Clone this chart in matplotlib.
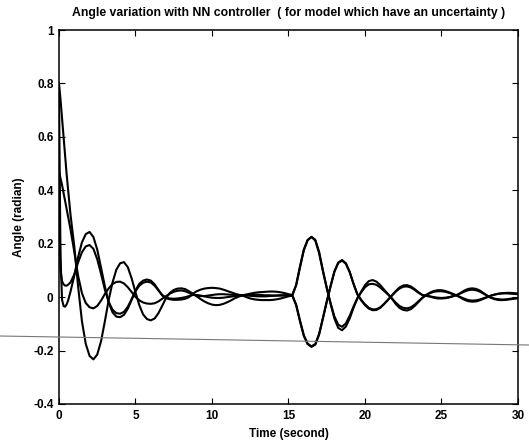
import numpy as np
import matplotlib
matplotlib.use("Agg")
import matplotlib.pyplot as plt
from matplotlib.lines import Line2D
from matplotlib.ticker import FormatStrFormatter

plt.rcParams["font.family"] = ["Liberation Sans", "DejaVu Sans"]
plt.rcParams["font.weight"] = "bold"
plt.rcParams["font.size"] = 8.5

# time axis: fine sampling at the start, then every 0.25 s
t = np.concatenate([[0, 0.05, 0.1, 0.2, 0.3, 0.4, 0.5, 0.6, 0.75],
                    np.arange(1.0, 30.01, 0.25)])

# angle curves (radian)
angle_1 = [0.80, 0.77, 0.74, 0.67, 0.60, 0.53, 0.46, 0.40, 0.31,
           0.19, 0.04, -0.09, -0.175,
           -0.22, -0.233, -0.215, -0.165,
           -0.09, -0.01, 0.055, 0.103,
           0.127, 0.131, 0.112, 0.07,
           0.018, -0.03, -0.065, -0.082,
           -0.087, -0.08, -0.06, -0.032,
           -0.003, 0.016, 0.027, 0.032,
           0.033, 0.03, 0.022, 0.013,
           0.003, -0.007, -0.016, -0.023,
           -0.028, -0.03, -0.029, -0.025,
           -0.019, -0.012, -0.004, 0.002,
           0.007, 0.01, 0.013, 0.016,
           0.018, 0.019, 0.02, 0.021,
           0.021, 0.02, 0.018, 0.015,
           0.011, 0.008, 0.045, 0.11,
           0.175, 0.213, 0.226, 0.215,
           0.17, 0.1, 0.035, -0.025,
           -0.08, -0.115, -0.124, -0.11,
           -0.08, -0.04, -0.005, 0.02,
           0.045, 0.06, 0.064, 0.058,
           0.045, 0.028, 0.012, -0.005,
           -0.025, -0.04, -0.048, -0.05,
           -0.045, -0.033, -0.018, -0.003,
           0.008, 0.017, 0.023, 0.026,
           0.026, 0.023, 0.018, 0.012,
           0.006, -0.002, -0.01, -0.015,
           -0.017, -0.016, -0.012, -0.006,
           0.0, 0.006, 0.01, 0.013,
           0.014, 0.014, 0.013, 0.012,
           0.011]

angle_2 = [0.79, 0.45, 0.15, -0.01, -0.033, -0.036, -0.027, -0.012, 0.02,
           0.08, 0.15, 0.205, 0.236,
           0.244, 0.225, 0.178, 0.11,
           0.04, -0.02, -0.057, -0.073,
           -0.075, -0.066, -0.043, -0.01,
           0.025, 0.05, 0.062, 0.066,
           0.062, 0.048, 0.027, 0.006,
           -0.004, -0.008, -0.01, -0.01,
           -0.009, -0.006, 0.0, 0.013,
           0.022, 0.028, 0.032, 0.034,
           0.035, 0.034, 0.032, 0.028,
           0.023, 0.018, 0.013, 0.009,
           0.006, 0.0, -0.005, -0.008,
           -0.01, -0.011, -0.011, -0.011,
           -0.01, -0.008, -0.005, -0.001,
           0.003, 0.006, -0.03, -0.09,
           -0.145, -0.176, -0.186, -0.178,
           -0.14, -0.08, -0.018, 0.04,
           0.095, 0.129, 0.139, 0.127,
           0.095, 0.05, 0.01, -0.012,
           -0.03, -0.043, -0.049, -0.048,
           -0.04, -0.026, -0.01, 0.006,
           0.022, 0.036, 0.044, 0.045,
           0.04, 0.03, 0.018, 0.008,
           0.005, 0.002, -0.002, -0.005,
           -0.005, -0.004, -0.001, 0.003,
           0.008, 0.016, 0.025, 0.031,
           0.033, 0.031, 0.025, 0.015,
           0.005, -0.003, -0.008, -0.011,
           -0.011, -0.01, -0.008, -0.006,
           -0.004]

angle_3 = [0.47, 0.458, 0.445, 0.42, 0.39, 0.36, 0.33, 0.30, 0.255,
           0.17, 0.08, 0.015, -0.022,
           -0.038, -0.042, -0.033, -0.013,
           0.012, 0.033, 0.049, 0.057,
           0.058, 0.051, 0.037, 0.019,
           0.001, -0.012, -0.02, -0.024,
           -0.025, -0.023, -0.016, -0.006,
           0.004, 0.013, 0.02, 0.024,
           0.025, 0.022, 0.016, 0.01,
           0.006, 0.004, 0.004, 0.006,
           0.008, 0.01, 0.011, 0.011,
           0.01, 0.009, 0.008, 0.007,
           0.007, 0.006, 0.005, 0.004,
           0.003, 0.003, 0.003, 0.004,
           0.005, 0.006, 0.007, 0.007,
           0.007, 0.007, 0.045, 0.115,
           0.178, 0.214, 0.225, 0.212,
           0.165, 0.097, 0.034, -0.022,
           -0.072, -0.103, -0.111, -0.098,
           -0.07, -0.035, -0.004, 0.018,
           0.037, 0.048, 0.05, 0.046,
           0.036, 0.023, 0.01, -0.004,
           -0.02, -0.033, -0.04, -0.042,
           -0.038, -0.028, -0.015, -0.002,
           0.008, 0.015, 0.02, 0.022,
           0.022, 0.02, 0.016, 0.011,
           0.006, 0.0, -0.006, -0.011,
           -0.013, -0.012, -0.009, -0.004,
           0.001, 0.006, 0.01, 0.013,
           0.015, 0.016, 0.016, 0.015,
           0.014]

angle_4 = [0.47, 0.25, 0.10, 0.06, 0.048, 0.043, 0.043, 0.047, 0.055,
           0.085, 0.13, 0.168, 0.19,
           0.195, 0.181, 0.142, 0.087,
           0.028, -0.018, -0.047, -0.06,
           -0.062, -0.055, -0.036, -0.007,
           0.022, 0.043, 0.054, 0.058,
           0.055, 0.043, 0.025, 0.008,
           -0.002, -0.005, -0.006, -0.005,
           -0.003, 0.0, 0.004, 0.008,
           0.008, 0.006, 0.003, 0.0,
           -0.002, -0.003, -0.003, -0.002,
           0.0, 0.002, 0.004, 0.006,
           0.007, 0.008, 0.009, 0.009,
           0.009, 0.008, 0.007, 0.007,
           0.006, 0.006, 0.006, 0.006,
           0.006, 0.006, -0.028, -0.087,
           -0.142, -0.174, -0.184, -0.176,
           -0.138, -0.078, -0.016, 0.042,
           0.096, 0.128, 0.137, 0.125,
           0.093, 0.05, 0.012, -0.01,
           -0.027, -0.04, -0.046, -0.045,
           -0.038, -0.025, -0.01, 0.005,
           0.02, 0.032, 0.039, 0.04,
           0.036, 0.027, 0.016, 0.008,
           0.005, 0.003, 0.0, -0.002,
           -0.003, -0.002, 0.0, 0.004,
           0.008, 0.014, 0.021, 0.026,
           0.028, 0.026, 0.021, 0.013,
           0.005, -0.002, -0.006, -0.008,
           -0.009, -0.008, -0.006, -0.004,
           -0.003]

x_ticks = [0, 5, 10, 15, 20, 25, 30]
y_ticks = [-0.4, -0.2, 0, 0.2, 0.4, 0.6, 0.8, 1]

fig = plt.figure(figsize=(5.29, 4.44), dpi=100)
ax = fig.add_axes([0.1115, 0.0901, 0.8677, 0.8423])

for y in (angle_1, angle_2, angle_3, angle_4):
    assert len(y) == len(t)
    ax.plot(t, y, color="black", lw=1.5)

ax.set_xlim(0, 30)
ax.set_ylim(-0.4, 1)
ax.set_xticks(x_ticks)
ax.set_yticks(y_ticks)
ax.yaxis.set_major_formatter(FormatStrFormatter("%g"))
ax.tick_params(direction="in", top=True, right=True, length=4, width=0.8,
               labelsize=8.5, pad=4)
for s in ax.spines.values():
    s.set_linewidth(1.1)

ax.set_title("Angle variation with NN controller  ( for model which have an uncertainty )",
             fontsize=8.8, fontweight="bold", pad=10)
ax.set_xlabel("Time (second)", fontsize=8.5, fontweight="bold", labelpad=5)
ax.set_ylabel("Angle (radian)", fontsize=8.5, fontweight="bold", labelpad=6)

# faint scanning line that runs across the whole page
fig.add_artist(Line2D([0, 1], [1 - 336 / 444, 1 - 345 / 444], color="#777777", lw=0.8))

fig.savefig("out.png", dpi=100)
